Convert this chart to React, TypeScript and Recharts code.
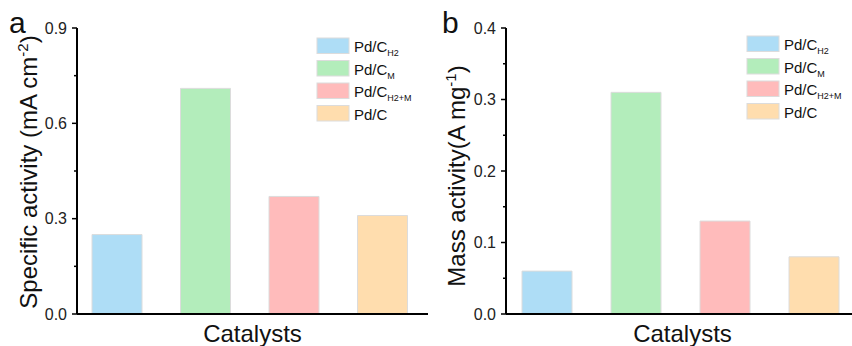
import React from 'react';
import { BarChart, Bar, XAxis, YAxis, Cell, Label } from 'recharts';

// catalysts and their measured activities
const catalysts = ['Pd/C_H2', 'Pd/C_M', 'Pd/C_H2+M', 'Pd/C'];
const legendMain = ['Pd/C', 'Pd/C', 'Pd/C', 'Pd/C'];
const legendSub = ['H2', 'M', 'H2+M', ''];
const specificActivity = [0.25, 0.71, 0.37, 0.31];
const massActivity = [0.06, 0.31, 0.13, 0.08];
const specificTicks = [0, 0.15, 0.3, 0.45, 0.6, 0.75, 0.9];
const specificMajor = [0, 0.3, 0.6, 0.9];
const massTicks = [0, 0.05, 0.1, 0.15, 0.2, 0.25, 0.3, 0.35, 0.4];
const massMajor = [0, 0.1, 0.2, 0.3, 0.4];

const colors = ['#AEDDF6', '#B3EDBB', '#FFBBBB', '#FFDDAE'];
const FONT = 'Arial, "Liberation Sans", sans-serif';

const specificData = catalysts.map((name, i) => ({ name, value: specificActivity[i] }));
const massData = catalysts.map((name, i) => ({ name, value: massActivity[i] }));

const TICK_SIZE = 5;
const TICK_MARGIN = 5;

function makeTick(major: number[]) {
  return (props: any) => {
    const { x, y, payload } = props;
    const axisX = x + TICK_SIZE + TICK_MARGIN;
    const isMajor = major.some((m) => Math.abs(m - payload.value) < 1e-9);
    return (
      <g>
        <line
          x1={axisX}
          x2={axisX - (isMajor ? TICK_SIZE : 3)}
          y1={y}
          y2={y}
          stroke="#000"
          strokeWidth={1.5}
        />
        {isMajor && (
          <text x={x} y={y} dy={5.5} textAnchor="end" fontSize={16} fontFamily={FONT} fill="#222">
            {payload.value.toFixed(1)}
          </text>
        )}
      </g>
    );
  };
}

function Legend({ left, top }: { left: number; top: number }) {
  return (
    <svg
      style={{ position: 'absolute', left, top, overflow: 'visible' }}
      width={110}
      height={95}
    >
      {catalysts.map((c, i) => (
        <g key={c} transform={`translate(0, ${i * 22.5})`}>
          <rect x={0} y={0} width={32} height={15.5} fill={colors[i]} stroke="#dcdcdc" strokeWidth={1} />
          <text x={37} y={14} fontSize={15} fontFamily={FONT} fill="#111">
            {legendMain[i]}
            {legendSub[i] && (
              <tspan fontSize={9} dy={4}>
                {legendSub[i]}
              </tspan>
            )}
          </text>
        </g>
      ))}
    </svg>
  );
}

interface PanelProps {
  data: { name: string; value: number }[];
  domain: [number, number];
  ticks: number[];
  major: number[];
  yLabel: React.ReactNode;
  labelX: number;
  labelY: number;
  letter: string;
  letterX: number;
  boxRight: boolean;
  padLeft: number;
  padRight: number;
  marginRight: number;
  yWidth: number;
  width: number;
}

function Panel(p: PanelProps) {
  return (
    <BarChart
      width={p.width}
      height={346}
      data={p.data}
      margin={{ top: 28, right: p.marginRight, bottom: 0, left: 0 }}
      barSize={50}
    >
      <XAxis
        dataKey="name"
        tick={false}
        tickLine={false}
        height={32}
        padding={{ left: p.padLeft, right: p.padRight }}
        axisLine={{ stroke: '#000', strokeWidth: 2 }}
      >
        <Label
          value="Catalysts"
          position="insideBottom"
          offset={4}
          fontSize={24}
          fontFamily={FONT}
          fill="#111"
        />
      </XAxis>
      <XAxis
        xAxisId="top"
        orientation="top"
        dataKey="name"
        tick={false}
        tickLine={false}
        height={0}
        axisLine={{ stroke: '#000', strokeWidth: 1.8 }}
      />
      <YAxis
        domain={p.domain}
        ticks={p.ticks}
        interval={0}
        width={p.yWidth}
        tickSize={TICK_SIZE}
        tickMargin={TICK_MARGIN}
        tickLine={false}
        tick={makeTick(p.major)}
        axisLine={{ stroke: '#000', strokeWidth: 2 }}
        allowDataOverflow
      />
      {p.boxRight && (
        <YAxis
          yAxisId="right"
          orientation="right"
          domain={p.domain}
          width={0}
          tick={false}
          tickLine={false}
          axisLine={{ stroke: '#000', strokeWidth: 1.8 }}
        />
      )}
      <Bar dataKey="value" isAnimationActive={false} stroke="#dcdcdc" strokeWidth={1}>
        {p.data.map((d, i) => (
          <Cell key={d.name} fill={colors[i]} />
        ))}
      </Bar>
      <text
        transform={`translate(${p.labelX}, ${p.labelY}) rotate(-90)`}
        textAnchor="middle"
        fontSize={24}
        fontFamily={FONT}
        fill="#111"
      >
        {p.yLabel}
      </text>
      <text x={p.letterX} y={33} fontSize={30} fontFamily={FONT} fill="#111">
        {p.letter}
      </text>
    </BarChart>
  );
}

export default function App() {
  return (
    <div
      style={{
        position: 'absolute',
        left: 0,
        top: 0,
        width: 852,
        height: 346,
        overflow: 'hidden',
        background: '#fff',
      }}
    >
      <div style={{ position: 'absolute', left: 0, top: 0 }}>
        <Panel
          data={specificData}
          domain={[0, 0.9]}
          ticks={specificTicks}
          major={specificMajor}
          yLabel={
            <>
              Specific activity (mA cm
              <tspan dy={-9} fontSize={15}>
                -2
              </tspan>
              <tspan dy={9}>)</tspan>
            </>
          }
          labelX={37}
          labelY={172}
          letter="a"
          letterX={9}
          boxRight
          padLeft={-4}
          padRight={1}
          marginRight={2}
          yWidth={77}
          width={430}
        />
      </div>
      <div style={{ position: 'absolute', left: 430, top: 0 }}>
        <Panel
          data={massData}
          domain={[0, 0.4]}
          ticks={massTicks}
          major={massMajor}
          yLabel={
            <>
              Mass activity(A mg
              <tspan dy={-9} fontSize={15}>
                -1
              </tspan>
              <tspan dy={9}>)</tspan>
            </>
          }
          labelX={35}
          labelY={176}
          letter="b"
          letterX={12}
          boxRight={false}
          padLeft={-4}
          padRight={1}
          marginRight={1}
          yWidth={76}
          width={430}
        />
      </div>
      <Legend left={317} top={38} />
      <Legend left={747} top={36} />
    </div>
  );
}
